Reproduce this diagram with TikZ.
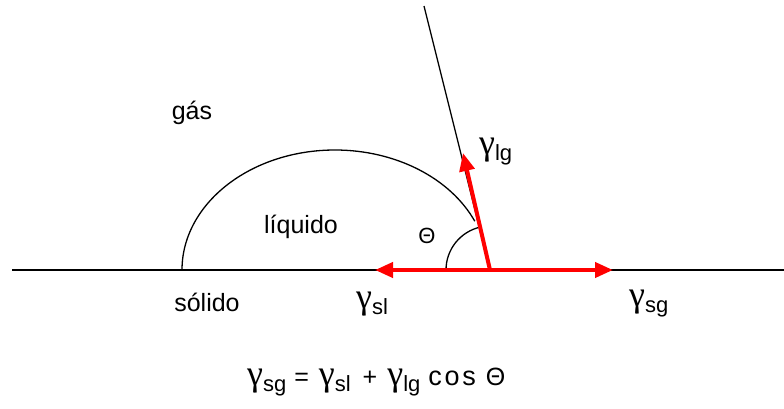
\documentclass[tikz,border=0pt]{standalone}
\usepackage{fontspec}
\setmainfont{Liberation Sans}
\newfontfamily\greekfont{Liberation Serif}
\usetikzlibrary{arrows.meta}

\tikzset{
  lbl/.style={font=\fontsize{25}{28}\selectfont, inner sep=0pt},
  force/.style={red, line width=4pt, -{Triangle[length=18pt,width=15pt]}},
  thin line/.style={black, line width=1.3pt},
}
\newcommand{\gam}[1]{{\greekfont\fontsize{36}{36}\selectfont γ}\raisebox{-6pt}{\fontsize{22}{22}\selectfont #1}}

\begin{document}
\begin{tikzpicture}[x=1pt,y=1pt]
  \useasboundingbox (0,0) rectangle (784,408);
  \coordinate (left) at (12,138);
  \coordinate (right) at (784,138);
  \coordinate (contact) at (490,138);
  \coordinate (top) at (424,402);
  \coordinate (dropL) at (182,138);

  \draw[thin line] (left) -- (right);
  \draw[thin line] (contact) -- (top);
  \draw[thin line] (dropL) arc[start angle=180, end angle=24, x radius=153, y radius=120];
  \draw[thin line] ([xshift=-44pt]contact) arc[start angle=180, end angle=103, radius=44];

  \draw[force] (contact) -- (375,138);
  \draw[force] (contact) -- (613,138);
  \draw[force] (contact) -- (463,255);

  \node[lbl] (gas) at (192,295) {gás};
  \node[lbl] (liquid) at (301,181) {líquido};
  \node[lbl] (solid) at (207,106) {sólido};
  \node[lbl, font=\fontsize{22}{22}\selectfont] (theta) at (427,172) {Θ};

  \node[lbl, anchor=west] (glg) at (479,256) {\gam{lg}};
  \node[lbl, anchor=west] (gsl) at (356,104) {\gam{sl}};
  \node[lbl, anchor=west] (gsg) at (629,104) {\gam{sg}};

  \node[lbl, anchor=west] (young) at (247,26) {\gam{sg}\hspace{8pt}=\hspace{10pt}\gam{sl}\hspace{12pt}+\hspace{10pt}\gam{lg}\hspace{8pt}{\fontsize{27}{28}\selectfont\addfontfeature{LetterSpace=10}cos}\hspace{10pt}Θ};
\end{tikzpicture}
\end{document}
